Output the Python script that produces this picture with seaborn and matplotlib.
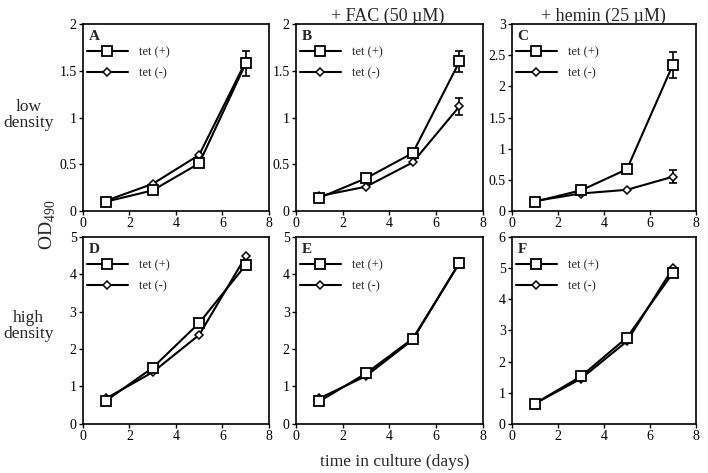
import seaborn as sns
import matplotlib.pyplot as plt
from matplotlib.ticker import FormatStrFormatter

days = [1, 3, 5, 7]
panels = ["A", "B", "C", "D", "E", "F"]

tet_plus = {
    "A": [0.10, 0.22, 0.51, 1.58],
    "B": [0.14, 0.35, 0.62, 1.60],
    "C": [0.15, 0.33, 0.67, 2.35],
    "D": [0.62, 1.50, 2.70, 4.25],
    "E": [0.60, 1.35, 2.28, 4.30],
    "F": [0.65, 1.52, 2.77, 4.85],
}
tet_minus = {
    "A": [0.11, 0.29, 0.60, 1.60],
    "B": [0.16, 0.26, 0.52, 1.12],
    "C": [0.16, 0.28, 0.34, 0.55],
    "D": [0.68, 1.38, 2.38, 4.48],
    "E": [0.68, 1.28, 2.25, 4.32],
    "F": [0.65, 1.45, 2.65, 5.00],
}
# error at day 7 only (where visible)
err_plus = {"A": 0.13, "B": 0.11, "C": 0.21}
err_minus = {"B": 0.09, "C": 0.10}

y_max = {"A": 2, "B": 2, "C": 3, "D": 5, "E": 5, "F": 6}
y_step = {"A": 0.5, "B": 0.5, "C": 0.5, "D": 1, "E": 1, "F": 1}

sns.set_style("ticks")
plt.rcParams["font.family"] = ["Liberation Serif", "DejaVu Serif"]
plt.rcParams["mathtext.fontset"] = "custom"
plt.rcParams["mathtext.rm"] = "Liberation Serif"

fig = plt.figure(figsize=(7.08, 4.73), dpi=100)
lefts = [0.117, 0.418, 0.723]
widths = [0.263, 0.264, 0.260]
bottoms = [0.554, 0.104]
height = 0.395

for i, p in enumerate(panels):
    row, col = divmod(i, 3)
    ax = fig.add_axes([lefts[col], bottoms[row], widths[col], height])
    if p in err_plus:
        ax.errorbar([7], [tet_plus[p][3]], yerr=[err_plus[p]], fmt="none",
                    ecolor="black", elinewidth=1.2, capsize=3, capthick=1.2, zorder=1)
    if p in err_minus:
        ax.errorbar([7], [tet_minus[p][3]], yerr=[err_minus[p]], fmt="none",
                    ecolor="black", elinewidth=1.2, capsize=3, capthick=1.2, zorder=1)
    sns.lineplot(x=days, y=tet_plus[p], ax=ax, color="black", lw=1.5,
                 marker="s", markersize=7, markerfacecolor="white",
                 markeredgecolor="black", markeredgewidth=1.3, label="tet (+)", zorder=3)
    sns.lineplot(x=days, y=tet_minus[p], ax=ax, color="black", lw=1.5,
                 marker="D", markersize=4, markerfacecolor="white",
                 markeredgecolor="black", markeredgewidth=1.1, label="tet (-)", zorder=2)
    ax.set_xlim(0, 8)
    ax.set_ylim(0, y_max[p])
    ax.set_xticks([0, 2, 4, 6, 8])
    ticks = []
    v = 0
    while v <= y_max[p] + 1e-9:
        ticks.append(v)
        v += y_step[p]
    ax.set_yticks(ticks)
    ax.yaxis.set_major_formatter(FormatStrFormatter("%g"))
    ax.tick_params(labelsize=10, length=3, width=1, pad=1.5, colors="black")
    for s in ax.spines.values():
        s.set_linewidth(1.2)
        s.set_color("black")
    ax.set_xlabel("")
    ax.set_ylabel("")
    ax.text(0.03, 0.97, p, transform=ax.transAxes, ha="left", va="top",
            fontsize=11, fontweight="bold")
    ax.legend(loc="upper left", bbox_to_anchor=(-0.02, 0.92), frameon=False,
              handlelength=3.3, fontsize=9, labelspacing=0.7, borderaxespad=0.2,
              handletextpad=0.9)

fig.text(0.548, 0.965, "+ FAC (50 µM)", ha="center", va="center", fontsize=13)
fig.text(0.853, 0.965, "+ hemin (25 µM)", ha="center", va="center", fontsize=13)
fig.text(0.04, 0.757, "low\ndensity", ha="center", va="center", fontsize=12.5, linespacing=1.0)
fig.text(0.04, 0.31, "high\ndensity", ha="center", va="center", fontsize=12.5, linespacing=1.0)
fig.text(0.068, 0.524, r"OD$_{\mathrm{490}}$", ha="center", va="center", fontsize=14, rotation=90)
fig.text(0.558, 0.023, "time in culture (days)", ha="center", va="center", fontsize=12.5)

plt.savefig("out.png", dpi=100)
plt.close()
